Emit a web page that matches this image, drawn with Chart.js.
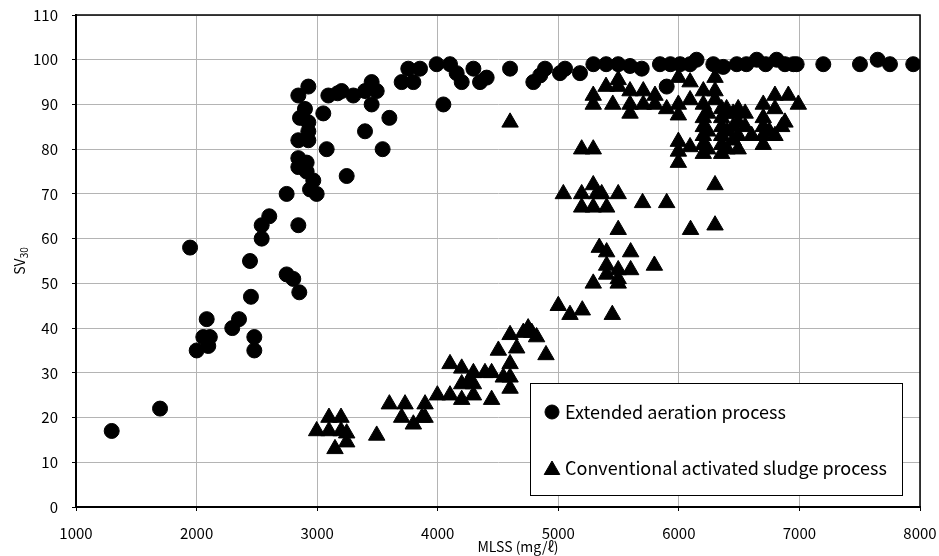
<!DOCTYPE html>
<html>
<head>
<meta charset="utf-8">
<script src="https://cdn.jsdelivr.net/npm/chart.js@4.4.0/dist/chart.umd.min.js"></script>
<style>
    html, body { margin: 0; padding: 0; background: #fff; }
    #wrap { width: 939px; height: 556px; }
</style>
</head>
<body>
<div id="wrap"><canvas id="svChart"></canvas></div>
<script>
// Extended aeration process (circles)
const aerationX = [
    1296, 1697, 1946, 2001, 2056, 2084, 2097, 2110, 2296, 2352, 2451, 2443, 2479, 2479,
    2540, 2540, 2603, 2747, 2747, 2802, 2852, 2844, 2844, 2927, 2899, 2858, 2927, 2927,
    2844, 2927, 2844, 2913, 2844, 2913, 2968, 2941, 2996, 3051, 3079, 3245, 3093, 3170,
    3203, 3300, 3397, 3397, 3452, 3494, 3452, 3599, 3543, 3701, 3756, 3853, 3798, 3991,
    4047, 4102, 4157, 4199, 4296, 4351, 4406, 4600, 4793, 4850, 4890, 5014, 5056, 5180,
    5291, 5397, 5497, 5595, 5692, 5843, 5899, 5930, 6010, 6093, 6147, 6286, 6368, 6480,
    6560, 6646, 6720, 6811, 6880, 6950, 6977, 7198, 7502, 7649, 7751, 7944
];
const aerationY = [
    17, 22, 58, 35, 38, 42, 36, 38, 40, 42, 47, 55, 38, 35,
    60, 63, 65, 70, 52, 51, 48, 63, 92, 94, 89, 87, 86, 84,
    82, 82, 78, 77, 76, 75, 73, 71, 70, 88, 80, 74, 92, 92.5,
    93, 92, 93, 84, 95, 93, 90, 87, 80, 95, 98, 98, 95, 99,
    90, 99, 97, 95, 98, 95, 96, 98, 95, 96.5, 98, 97, 98, 97,
    99, 99, 99, 98.6, 98, 99, 94, 99, 99, 99, 100, 99, 98.4, 99,
    99, 100, 99, 100, 99, 99, 99, 99, 99, 100, 99, 99
];

// Conventional activated sludge process (triangles)
const conventionalX = [
    2996, 3098, 3098, 3198, 3198, 3245, 3245, 3148, 3494, 3599, 3729, 3701, 3798, 3895,
    3895, 3870, 3997, 4102, 4102, 4199, 4199, 4199, 4296, 4296, 4296, 4255, 4392, 4447,
    4447, 4503, 4544, 4600, 4600, 4600, 4655, 4600, 4710, 4750, 4780, 4820, 4898,
    5000, 5097, 5199, 5448, 4600,
    5042, 5194, 5290, 5318, 5360, 5497, 5699, 5899, 5194, 5290, 5401, 5497, 6097,
    5340, 5401, 5600, 5401, 5497, 5600, 5797, 5401, 5497, 5497, 5290, 6300, 6300,
    5194, 5290, 5996, 5996, 5996, 6093,
    5290, 5290, 5396, 5452, 5497, 5497, 5595, 5595, 5595, 5705, 5705, 5802, 5802, 5899,
    5996, 5996, 5996, 6093, 6093, 6203, 6203, 6300, 6300, 6300, 6396,
    6203, 6203, 6203, 6203, 6203, 6240, 6240, 6240,
    6355, 6355, 6355, 6355, 6355, 6355, 6400, 6400, 6400,
    6450, 6450, 6450, 6492, 6492, 6492, 6492, 6550, 6550, 6604,
    6700, 6700, 6700, 6700, 6700, 6750, 6797, 6797, 6797, 6853, 6880, 6908, 6991
];
const conventionalY = [
    17, 20, 17, 20, 17, 16.5, 14.5, 13, 16, 23, 23, 20, 18.5, 23,
    20, 20, 25, 32, 25, 31, 27.5, 24, 30, 27.5, 25, 28, 30, 30,
    24, 35, 29, 32, 29, 26.5, 35.5, 38.5, 39, 40, 39, 38, 34,
    45, 43, 44, 43, 86,
    70, 70, 72, 70, 70, 70, 68, 68, 67, 67, 67, 62, 62,
    58, 57, 57, 54, 53, 53, 54, 52, 51, 50, 50, 72, 63,
    80, 80, 77, 79.5, 81.7, 80.5,
    92, 90, 94, 90, 95.5, 94, 93, 90, 88, 93, 90, 92, 90, 89,
    96, 90, 87.6, 95, 91, 93, 90, 96, 93, 91, 89,
    79, 81, 83, 85, 87, 80, 84, 88,
    79, 81, 83, 85, 87, 89, 80, 84, 88,
    82, 85, 88, 80, 83, 86, 89, 85, 88, 83,
    81, 83, 85, 87, 90, 84, 92, 89, 83, 85, 86, 92, 90
];

const seriesLabels = ['Extended aeration process', 'Conventional activated sludge process'];

const FONT = '"Noto Sans CJK JP", "Noto Sans", sans-serif';

function toPoints(xs, ys) {
    return xs.map((x, i) => ({ x: x, y: ys[i] }));
}

// keep tick label overflow from pushing the plot area around
function noLabelPadding(scale) {
    scale.paddingTop = 0;
    scale.paddingBottom = 0;
    scale.paddingLeft = 0;
    scale.paddingRight = 0;
}

// Plot frame (top/right lines), axis titles and in-plot legend
const decorPlugin = {
    id: 'decor',
    afterDraw(chart) {
        const ctx = chart.ctx;
        const area = chart.chartArea;
        ctx.save();

        // top and right frame
        ctx.strokeStyle = '#000';
        ctx.lineWidth = 1.5;
        ctx.beginPath();
        ctx.moveTo(area.left, area.top);
        ctx.lineTo(area.right, area.top);
        ctx.lineTo(area.right, area.bottom);
        ctx.stroke();

        // x title
        ctx.fillStyle = '#000';
        ctx.font = '14px ' + FONT;
        ctx.textAlign = 'center';
        ctx.textBaseline = 'middle';
        ctx.fillText('MLSS (mg/ℓ)', (area.left + area.right) / 2 + 20, area.bottom + 40);

        // y title with subscript
        ctx.save();
        ctx.translate(20, (area.top + area.bottom) / 2);
        ctx.rotate(-Math.PI / 2);
        ctx.textAlign = 'left';
        ctx.textBaseline = 'alphabetic';
        ctx.font = '14px ' + FONT;
        const w1 = ctx.measureText('SV').width;
        ctx.font = '10px ' + FONT;
        const w2 = ctx.measureText('30').width;
        const start = -(w1 + w2) / 2;
        ctx.font = '14px ' + FONT;
        ctx.fillText('SV', start, 5);
        ctx.font = '10px ' + FONT;
        ctx.fillText('30', start + w1, 8);
        ctx.restore();

        // legend box
        const bx = area.right - 390;
        const by = area.bottom - 124;
        const bw = 372;
        const bh = 112;
        ctx.fillStyle = '#fff';
        ctx.fillRect(bx, by, bw, bh);
        ctx.strokeStyle = '#000';
        ctx.lineWidth = 1;
        ctx.strokeRect(bx + 0.5, by + 0.5, bw, bh);

        const rowsY = [by + 29, by + 85];
        chart.data.datasets.forEach((ds, i) => {
            ctx.fillStyle = '#000';
            ctx.strokeStyle = '#000';
            Chart.helpers.drawPoint(ctx, {
                pointStyle: ds.pointStyle,
                radius: ds.pointStyle === 'triangle' ? 9 : 7,
                rotation: 0,
                borderWidth: 1
            }, bx + 22, rowsY[i] + (ds.pointStyle === 'triangle' ? 2 : 0));
            ctx.fillStyle = '#000';
            ctx.font = '18px ' + FONT;
            ctx.textAlign = 'left';
            ctx.textBaseline = 'middle';
            ctx.fillText(ds.label, bx + 35, rowsY[i]);
        });

        ctx.restore();
    }
};

const ctx = document.getElementById('svChart').getContext('2d');
const svChart = new Chart(ctx, {
    type: 'scatter',
    data: {
        datasets: [
            {
                label: seriesLabels[0],
                data: toPoints(aerationX, aerationY),
                pointStyle: 'circle',
                pointRadius: 7.5,
                backgroundColor: '#000',
                borderColor: '#000',
                borderWidth: 1
            },
            {
                label: seriesLabels[1],
                data: toPoints(conventionalX, conventionalY),
                pointStyle: 'triangle',
                pointRadius: 9.5,
                backgroundColor: '#000',
                borderColor: '#000',
                borderWidth: 1
            }
        ]
    },
    options: {
        responsive: true,
        maintainAspectRatio: false,
        animation: false,
        layout: {
            padding: { left: 0, top: 15, right: 19, bottom: 0 }
        },
        plugins: {
            legend: { display: false },
            tooltip: { enabled: false }
        },
        scales: {
            x: {
                type: 'linear',
                min: 1000,
                max: 8000,
                ticks: {
                    stepSize: 1000,
                    color: '#000',
                    padding: 13,
                    font: { family: FONT, size: 15 },
                    callback: value => String(value)
                },
                grid: {
                    color: '#b4b4b4',
                    lineWidth: 1,
                    tickColor: '#000',
                    tickLength: 4
                },
                border: { color: '#000', width: 2 },
                afterFit: scale => {
                    scale.height = 49;
                    noLabelPadding(scale);
                }
            },
            y: {
                min: 0,
                max: 110,
                ticks: {
                    stepSize: 10,
                    color: '#000',
                    padding: 14,
                    font: { family: FONT, size: 15 }
                },
                grid: {
                    color: '#b4b4b4',
                    lineWidth: 1,
                    tickColor: '#000',
                    tickLength: 4
                },
                border: { color: '#000', width: 2 },
                afterFit: scale => {
                    scale.width = 76;
                    noLabelPadding(scale);
                }
            }
        }
    },
    plugins: [decorPlugin]
});
</script>
</body>
</html>
